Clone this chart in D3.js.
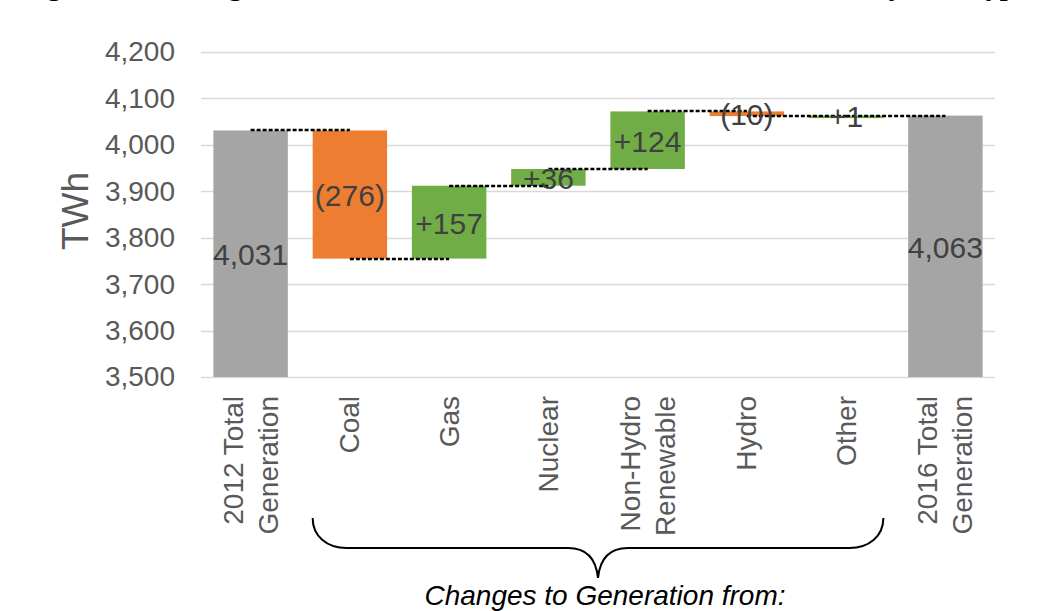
<!DOCTYPE html>
<html>
<head>
<meta charset="utf-8">
<script src="https://cdn.jsdelivr.net/npm/d3@7"></script>
<style>
  html, body { margin: 0; padding: 0; background: #fff; }
  svg { display: block; }
</style>
</head>
<body>
<svg id="chart" width="1063" height="611"></svg>
<script>
// ---- data ----
const categories = ["2012 Total Generation", "Coal", "Gas", "Nuclear", "Non-Hydro Renewable", "Hydro", "Other", "2016 Total Generation"];
const categoryLines = [["2012 Total", "Generation"], ["Coal"], ["Gas"], ["Nuclear"], ["Non-Hydro", "Renewable"], ["Hydro"], ["Other"], ["2016 Total", "Generation"]];
const kinds = ["total", "change", "change", "change", "change", "change", "change", "total"];
const values = [4031, -276, 157, 36, 124, -10, 1, 4063];
const yTicks = [3500, 3600, 3700, 3800, 3900, 4000, 4100, 4200];
const yTitle = "TWh";
const braceLabel = "Changes to Generation from:";
const figureTitle = "Figure [X]: Change in Total Net Electric Generation from 2012 to 2016 by Fuel Type, 2012";

(function () {
// ---- layout ----
const svg = d3.select("#chart");
const plot = { left: 201, right: 995, top: 52, bottom: 377 };

const x = d3.scaleBand().domain(categories).range([plot.left, plot.right]).paddingInner(0.25).paddingOuter(0.125);
const y = d3.scaleLinear().domain([3500, 4200]).range([plot.bottom, plot.top]);

// compute waterfall extents
let running = 0;
const bars = categories.map((c, i) => {
  let start, end;
  if (kinds[i] === "total") { start = 3500; end = values[i]; running = values[i]; }
  else { start = running; end = running + values[i]; running = end; }
  return { cat: c, kind: kinds[i], value: values[i], start, end, level: running };
});

const fmt = d3.format(",");
function labelText(b) {
  if (b.kind === "total") return fmt(b.value);
  return b.value < 0 ? "(" + fmt(-b.value) + ")" : "+" + fmt(b.value);
}
function colorOf(b) {
  if (b.kind === "total") return "#a5a5a5";
  return b.value < 0 ? "#ed7d31" : "#70ad47";
}

// cut-off title at top (only descenders visible, as in the reference)
svg.append("text")
  .attr("x", 22).attr("y", -5)
  .attr("font-family", "Liberation Serif, Times New Roman, serif")
  .attr("font-weight", "bold")
  .attr("font-size", 28)
  .attr("fill", "#000")
  .text(figureTitle);

// gridlines
svg.append("g").selectAll("line").data(yTicks).join("line")
  .attr("x1", plot.left).attr("x2", plot.right)
  .attr("y1", d => Math.round(y(d)) + 0.5).attr("y2", d => Math.round(y(d)) + 0.5)
  .attr("stroke", "#d9d9d9").attr("stroke-width", 1.5);

// y axis labels
const yAxis = d3.axisLeft(y).tickValues(yTicks).tickFormat(fmt).tickSize(0).tickPadding(0);
const gy = svg.append("g").attr("transform", "translate(175,0)").call(yAxis);
gy.select(".domain").remove();
gy.selectAll("text")
  .attr("font-family", "Liberation Sans, Arial, sans-serif")
  .attr("font-size", 28)
  .attr("fill", "#595959");

// y title
svg.append("text")
  .attr("transform", "translate(75,211) rotate(-90)")
  .attr("text-anchor", "middle")
  .attr("dominant-baseline", "central")
  .attr("font-family", "Liberation Sans, Arial, sans-serif")
  .attr("font-size", 37)
  .attr("fill", "#595959")
  .text(yTitle);

// bars
svg.append("g").selectAll("rect").data(bars).join("rect")
  .attr("x", d => x(d.cat))
  .attr("width", x.bandwidth())
  .attr("y", d => y(Math.max(d.start, d.end)))
  .attr("height", d => Math.max(2.5, Math.abs(y(d.start) - y(d.end))))
  .attr("fill", colorOf);

// connectors
const conn = bars.slice(0, -1).map((b, i) => ({ from: b.cat, to: categories[i + 1], level: b.level }));
svg.append("g").selectAll("line").data(conn).join("line")
  .attr("x1", d => x(d.from) + x.bandwidth() / 2)
  .attr("x2", d => x(d.to) + x.bandwidth() / 2)
  .attr("y1", d => Math.round(y(d.level))).attr("y2", d => Math.round(y(d.level)))
  .attr("stroke", "#000").attr("stroke-width", 2.5)
  .attr("stroke-dasharray", "4,2");

// bar labels
svg.append("g").selectAll("text").data(bars).join("text")
  .attr("x", d => x(d.cat) + x.bandwidth() / 2)
  .attr("y", d => (y(d.start) + y(d.end)) / 2 + 1)
  .attr("text-anchor", "middle")
  .attr("dominant-baseline", "central")
  .attr("font-family", "Liberation Sans, Arial, sans-serif")
  .attr("font-size", 30)
  .attr("fill", "#404040")
  .text(labelText);

// x labels
const xl = svg.append("g").selectAll("g").data(categories).join("g")
  .attr("transform", d => `translate(${x(d) + x.bandwidth() / 2},396) rotate(-90)`);
xl.each(function(d, i) {
  const lines = categoryLines[i];
  const n = lines.length;
  const lh = 35;
  d3.select(this).selectAll("text").data(lines).join("text")
    .attr("x", 0)
    .attr("y", (l, j) => (j - (n - 1) / 2) * lh)
    .attr("text-anchor", "end")
    .attr("dominant-baseline", "central")
    .attr("font-family", "Liberation Sans, Arial, sans-serif")
    .attr("font-size", 28)
    .attr("fill", "#595959")
    .text(l => l);
});

// brace
const bl = x("Coal"), br = x("Other") + x.bandwidth();
const bm = (bl + br) / 2;
const bTop = 518, bMid = 548, bTip = 578;
const bracePath = `M${bl},${bTop} C${bl},${bMid - 12} ${bl + 14},${bMid} ${bl + 34},${bMid}` +
  ` L${bm - 30},${bMid} C${bm - 12},${bMid} ${bm - 2},${bMid + 10} ${bm},${bTip}` +
  ` C${bm + 2},${bMid + 10} ${bm + 12},${bMid} ${bm + 30},${bMid}` +
  ` L${br - 34},${bMid} C${br - 14},${bMid} ${br},${bMid - 12} ${br},${bTop}`;
svg.append("path").attr("d", bracePath)
  .attr("fill", "none").attr("stroke", "#000").attr("stroke-width", 2);

svg.append("text")
  .attr("x", bm + 7).attr("y", 605)
  .attr("text-anchor", "middle")
  .attr("font-family", "Liberation Sans, Arial, sans-serif")
  .attr("font-style", "italic")
  .attr("font-size", 28)
  .attr("fill", "#000")
  .text(braceLabel);
})();
</script>
</body>
</html>
